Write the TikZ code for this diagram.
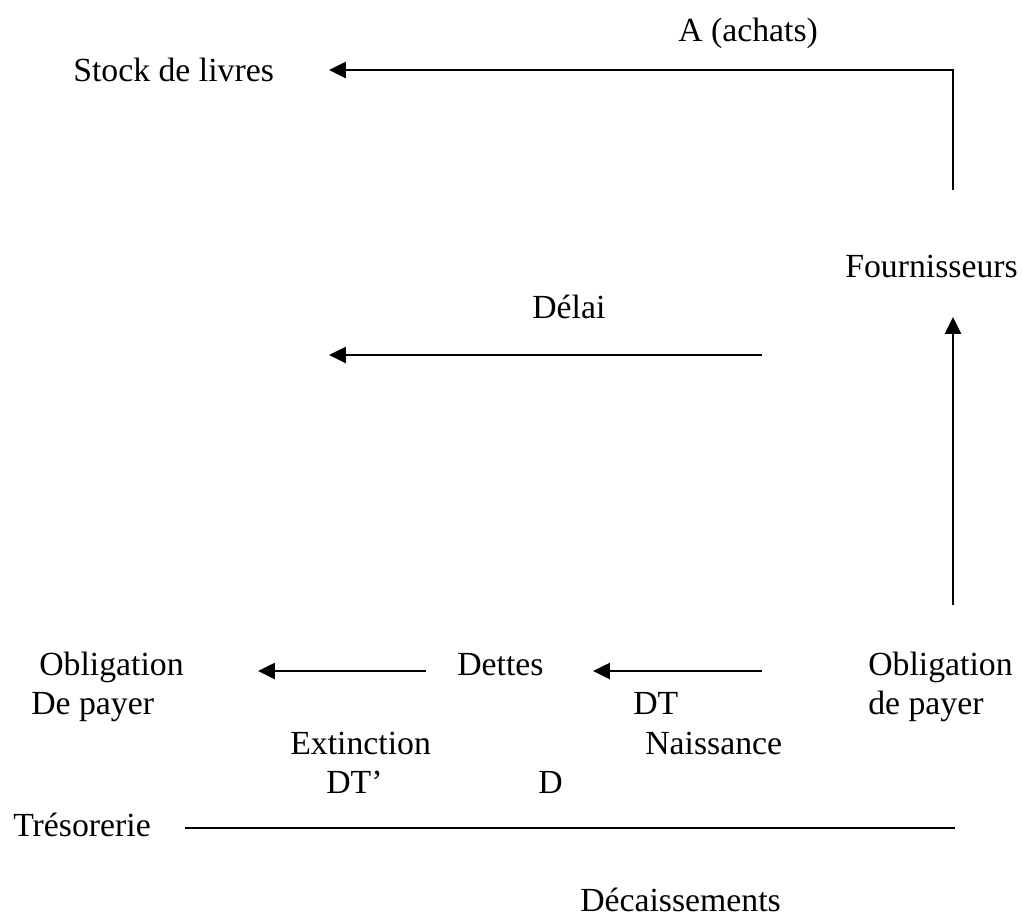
\documentclass[tikz,border=0pt]{standalone}
\usepackage{fontspec}
\setmainfont{Liberation Serif}
\usepackage{tikz}
\usetikzlibrary{arrows.meta}

\tikzset{
  lbl/.style={inner sep=0pt, anchor=base west},
  flux/.style={line width=1.4pt, -{Triangle[length=0.42cm, width=0.4cm]}},
  trait/.style={line width=1.4pt}
}

\begin{document}
\begin{tikzpicture}[x=0.025cm, y=-0.025cm, font=\fontsize{24}{27.7}\selectfont]
\useasboundingbox (0,0) rectangle (1022,917);
% labels of the flows
\node[lbl] (achats) at (678,41) {A (achats)};
\node[lbl] (stock) at (73,81) {Stock de livres};
\node[lbl] (fourn) at (845,277) {Fournisseurs};
\node[lbl] (delai) at (532,318) {Délai};
% debts row (base of a two-line label = its last line)
\node[lbl, align=left] (oblG) at (31,714) {\hspace*{0.2cm}Obligation\\De payer};
\node[lbl] (dettes) at (457,675) {Dettes};
\node[lbl, align=left] (oblD) at (868,714) {Obligation\\de payer};
\node[lbl] (dt) at (633,714) {DT};
\node[lbl] (extinct) at (290,754) {Extinction};
\node[lbl] (naiss) at (645,754) {Naissance};
\node[lbl] (dtp) at (326,793) {DT’};
\node[lbl] (d) at (538,793) {D};
\node[lbl] (treso) at (13,836) {Trésorerie};
\node[lbl] (decaiss) at (580,911) {Décaissements};
%
% free ends of the arrows
\coordinate (fournBas) at (953,190);
\coordinate (stockIn) at (329,70);
\coordinate (delaiA) at (762,355);
\coordinate (delaiB) at (329,355);
\coordinate (oblHaut) at (953,605);
\coordinate (fournIn) at (953,317);
\coordinate (naissA) at (762,671);
\coordinate (naissB) at (593,671);
\coordinate (extA) at (426,671);
\coordinate (extB) at (258,671);
\coordinate (tresoA) at (185,828);
\coordinate (tresoB) at (955,828);
% draw the arrows
\draw[flux] (fournBas) |- (stockIn);
\draw[flux] (delaiA) -- (delaiB);
\draw[flux] (oblHaut) -- (fournIn);
\draw[flux] (naissA) -- (naissB);
\draw[flux] (extA) -- (extB);
\draw[trait] (tresoA) -- (tresoB);
\end{tikzpicture}
\end{document}
